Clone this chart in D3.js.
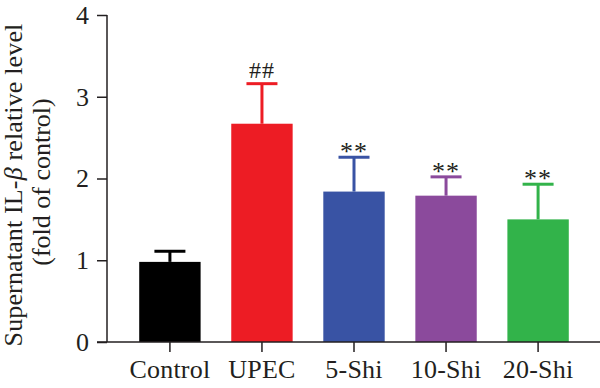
<!DOCTYPE html>
<html>
<head>
<meta charset="utf-8">
<script src="https://cdn.jsdelivr.net/npm/d3@7"></script>
<style>
  body { margin: 0; background: #fff; }
  svg { display: block; }
  text { font-family: "Liberation Serif", "DejaVu Serif", serif; fill: #231f20; }
</style>
</head>
<body>
<svg id="chart" width="600" height="388"></svg>
<script>
const groups = ["Control", "UPEC", "5-Shi", "10-Shi", "20-Shi"]
const means = [0.98, 2.67, 1.84, 1.79, 1.50]
const errTops = [1.11, 3.16, 2.26, 2.02, 1.93]
const marks = ["", "##", "**", "**", "**"]
const colors = ["#000000", "#ed1c24", "#3953a4", "#8b4a9c", "#32b34a"]
const yTicks = [0, 1, 2, 3, 4]

const svg = d3.select("#chart")
const plotLeft = 107, plotBottom = 342, plotTop = 15

const x = d3.scaleBand()
    .domain(groups)
    .range([plotLeft, 601])
    .paddingInner(0.333)
    .paddingOuter(0.35)

const y = d3.scaleLinear()
    .domain([0, 4])
    .range([plotBottom, plotTop])

// bars
svg.append("g").selectAll("rect")
    .data(groups)
    .enter().append("rect")
    .attr("x", d => x(d))
    .attr("y", (d, i) => y(means[i]))
    .attr("width", x.bandwidth())
    .attr("height", (d, i) => y(0) - y(means[i]))
    .attr("fill", (d, i) => colors[i])

// error bars (upper only)
const capW = 31
const err = svg.append("g")
groups.forEach((g, i) => {
    const cx = x(g) + x.bandwidth() / 2
    err.append("line")
        .attr("x1", cx).attr("x2", cx)
        .attr("y1", y(means[i])).attr("y2", y(errTops[i]))
        .attr("stroke", colors[i]).attr("stroke-width", 3)
    err.append("line")
        .attr("x1", cx - capW / 2).attr("x2", cx + capW / 2)
        .attr("y1", y(errTops[i])).attr("y2", y(errTops[i]))
        .attr("stroke", colors[i]).attr("stroke-width", 3)
    if (marks[i]) {
        let hash = marks[i] == "##"
        err.append("text")
            .attr("x", cx)
            .attr("y", y(errTops[i]) + (hash ? -6 : 3))
            .attr("text-anchor", "middle")
            .attr("font-size", hash ? 24 : 26)
            .attr("letter-spacing", 1)
            .text(marks[i])
    }
})

// y axis
const yAxis = svg.append("g")
    .attr("transform", `translate(${plotLeft},0)`)
    .call(d3.axisLeft(y).tickValues(yTicks).tickSize(10).tickPadding(8).tickFormat(d3.format("d")))
yAxis.select(".domain").attr("d", `M0,${plotTop}V${plotBottom}`)
yAxis.selectAll("line, path").attr("stroke", "#231f20").attr("stroke-width", 1.5)
yAxis.selectAll("text").attr("font-size", 26).attr("fill", "#231f20")
    .style("font-family", "'Liberation Serif', serif")

// x axis
const xAxis = svg.append("g")
    .attr("transform", `translate(0,${plotBottom})`)
    .call(d3.axisBottom(x).tickSize(10).tickSizeOuter(0))
xAxis.select(".domain").attr("d", "M97,0H600")
xAxis.selectAll("line, path").attr("stroke", "#231f20").attr("stroke-width", 1.5)
xAxis.selectAll("text")
    .attr("y", 35.5).attr("dy", 0)
    .attr("font-size", 26).attr("letter-spacing", 0.2).attr("fill", "#231f20")
    .style("font-family", "'Liberation Serif', serif")

// y title
const title = svg.append("text")
    .attr("transform", "translate(22,185) rotate(-90)")
    .attr("text-anchor", "middle")
    .attr("font-size", 26)
    .attr("letter-spacing", 0.15)
title.append("tspan").attr("x", 0).attr("y", 0).text("Supernatant IL-")
title.append("tspan").attr("font-style", "italic").text("β")
title.append("tspan").text(" relative level")
svg.append("text")
    .attr("transform", "translate(50,182) rotate(-90)")
    .attr("text-anchor", "middle")
    .attr("font-size", 26)
    .text("(fold of control)")
</script>
</body>
</html>
